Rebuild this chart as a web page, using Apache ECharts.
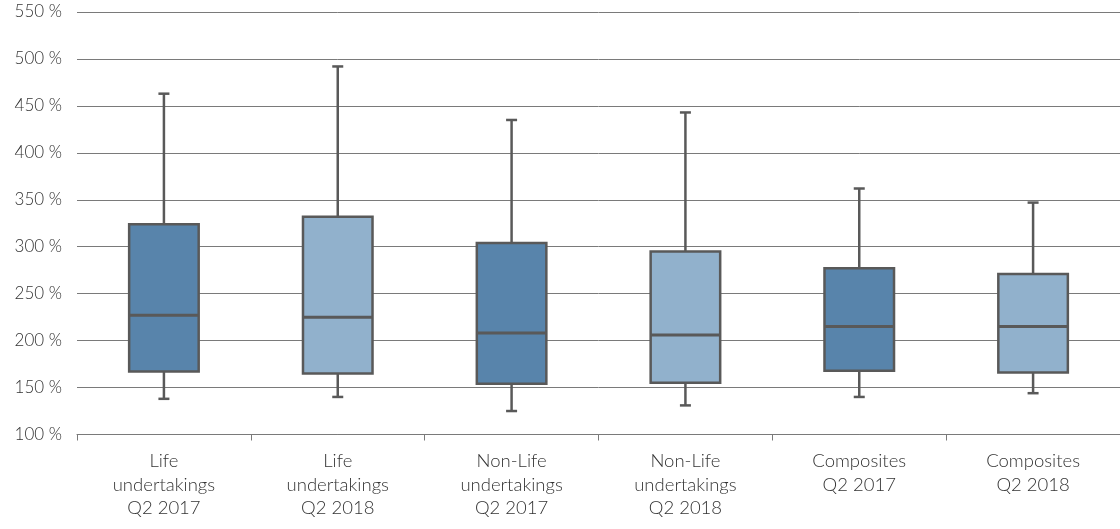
<!DOCTYPE html>
<html>
<head>
<meta charset="utf-8">
<style>
html,body{margin:0;padding:0;background:#fff;}
#chart{width:1120px;height:529px;}
</style>
<script src="https://cdn.jsdelivr.net/npm/echarts@6/dist/echarts.min.js"></script>
</head>
<body>
<div id="chart"></div>
<script>
const categories = [
  "Life\nundertakings\nQ2 2017",
  "Life\nundertakings\nQ2 2018",
  "Non-Life\nundertakings\nQ2 2017",
  "Non-Life\nundertakings\nQ2 2018",
  "Composites\nQ2 2017",
  "Composites\nQ2 2018"
];
const mins    = [138, 140, 125, 131, 140, 144];
const q1s     = [167, 165, 154, 155, 168, 166];
const medians = [227, 225, 208, 206, 215, 215];
const q3s     = [324, 332, 304, 295, 277, 271];
const maxs    = [463, 492, 435, 443, 362, 347];

const boxData = categories.map((c, i) => [i, mins[i], q1s[i], medians[i], q3s[i], maxs[i]]);

const FILLS = ['#5884ab', '#91b1cc'];
const STROKE = '#595959';

const chart = echarts.init(document.getElementById('chart'), null, {renderer: 'canvas'});
chart.setOption({
  animation: false,
  backgroundColor: '#ffffff',
  grid: {left: 77, right: 0, top: 12, bottom: 94.5, containLabel: false},
  xAxis: {
    type: 'category',
    data: categories,
    boundaryGap: true,
    axisLine: {show: true, lineStyle: {color: '#7a7a7a', width: 1}},
    axisTick: {show: true, alignWithLabel: false, length: 6, lineStyle: {color: '#7a7a7a'}},
    axisLabel: {
      color: '#333333', fontFamily: 'Lato', fontWeight: 300, fontSize: 18.5, lineHeight: 23.5,
      margin: 15, interval: 0
    },
    splitLine: {show: false}
  },
  yAxis: {
    type: 'value',
    min: 100, max: 550, interval: 50,
    axisLine: {show: false},
    axisTick: {show: false},
    axisLabel: {
      color: '#333333', fontFamily: 'Lato', fontWeight: 300, fontSize: 17, margin: 15,
      formatter: '{value} %'
    },
    splitLine: {show: true, lineStyle: {color: '#7a7a7a', width: 1}}
  },
  series: [{
    type: 'custom',
    data: boxData,
    encode: {x: 0, y: [1, 2, 3, 4, 5]},
    renderItem: function (params, api) {
      const idx = api.value(0);
      const cx = api.coord([idx, 100])[0];
      const yMin = api.coord([idx, api.value(1)])[1];
      const yQ1 = api.coord([idx, api.value(2)])[1];
      const yMed = api.coord([idx, api.value(3)])[1];
      const yQ3 = api.coord([idx, api.value(4)])[1];
      const yMax = api.coord([idx, api.value(5)])[1];
      const bw = api.size([1, 0])[0] * 0.4;
      const cap = 11;
      const fill = FILLS[params.dataIndex % 2];
      const ls = {stroke: STROKE, lineWidth: 2.5};
      return {
        type: 'group',
        children: [
          {type: 'line', shape: {x1: cx, y1: yQ3, x2: cx, y2: yMax}, style: ls},
          {type: 'line', shape: {x1: cx - cap / 2, y1: yMax, x2: cx + cap / 2, y2: yMax}, style: ls},
          {type: 'line', shape: {x1: cx, y1: yQ1, x2: cx, y2: yMin}, style: ls},
          {type: 'line', shape: {x1: cx - cap / 2, y1: yMin, x2: cx + cap / 2, y2: yMin}, style: ls},
          {type: 'rect', shape: {x: cx - bw / 2, y: yQ3, width: bw, height: yQ1 - yQ3},
            style: {fill: fill, stroke: STROKE, lineWidth: 2.5}},
          {type: 'line', shape: {x1: cx - bw / 2, y1: yMed, x2: cx + bw / 2, y2: yMed},
            style: {stroke: STROKE, lineWidth: 3}}
        ]
      };
    }
  }]
});
</script>
</body>
</html>
